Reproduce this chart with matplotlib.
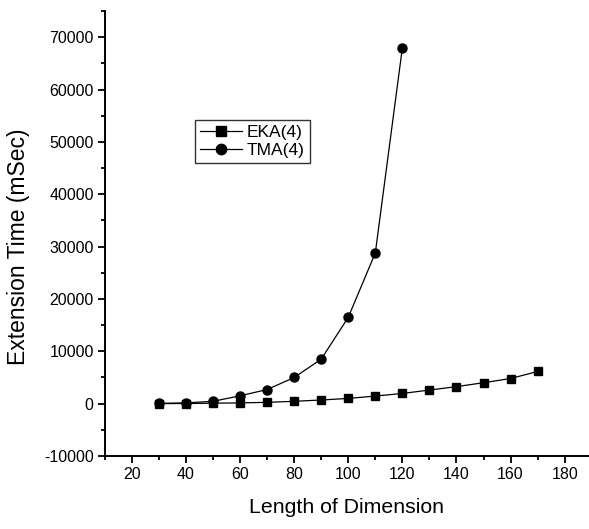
import matplotlib
matplotlib.use("Agg")
import matplotlib.pyplot as plt
from matplotlib.ticker import MultipleLocator

plt.rcParams['font.family'] = ['Liberation Sans', 'DejaVu Sans']
plt.rcParams['axes.unicode_minus'] = False

eka_x = [30, 40, 50, 60, 70, 80, 90, 100, 110, 120, 130, 140, 150, 160, 170]
eka_y = [10, 30, 80, 150, 250, 450, 700, 1000, 1450, 1950, 2600, 3250, 4000, 4800, 6150]
tma_x = [30, 40, 50, 60, 70, 80, 90, 100, 110, 120]
tma_y = [50, 150, 450, 1500, 2700, 5000, 8500, 16500, 28800, 68000]

fig = plt.figure(figsize=(5.89, 5.29), dpi=100)
ax = fig.add_axes([0.178, 0.138, 0.822, 0.841])

ax.plot(eka_x, eka_y, color='black', lw=0.9, marker='s', ms=6, label='EKA(4)')
ax.plot(tma_x, tma_y, color='black', lw=0.9, marker='o', ms=6.5, label='TMA(4)')

ax.set_xlim(10, 189)
ax.set_ylim(-10000, 75000)
ax.xaxis.set_major_locator(MultipleLocator(20))
ax.xaxis.set_minor_locator(MultipleLocator(10))
ax.yaxis.set_major_locator(MultipleLocator(10000))
ax.yaxis.set_minor_locator(MultipleLocator(5000))
ax.set_xticks(range(20, 181, 20))

for s in ['top', 'right']:
    ax.spines[s].set_visible(False)
for s in ['left', 'bottom']:
    ax.spines[s].set_linewidth(1.4)

ax.tick_params(which='major', direction='out', length=5, width=1.3, pad=3, labelsize=11.5)
ax.tick_params(which='minor', direction='out', length=3, width=1.3)

ax.set_xlabel('Length of Dimension', fontsize=15.3)
ax.xaxis.set_label_coords(0.5, -0.094)
ax.set_ylabel('Extension Time (mSec)', fontsize=16.5)
ax.yaxis.set_label_coords(-0.155, 0.47)

leg = ax.legend(loc='upper left', bbox_to_anchor=(195 / 589, 1 - 120 / 529),
                bbox_transform=fig.transFigure, fontsize=12.5, frameon=True,
                fancybox=False, handlelength=2.4, borderpad=0.3,
                labelspacing=0.15, handletextpad=0.3, borderaxespad=0,
                markerscale=1.15)
leg.get_frame().set_edgecolor('black')
leg.get_frame().set_linewidth(1)

fig.savefig('out.png', dpi=100)
